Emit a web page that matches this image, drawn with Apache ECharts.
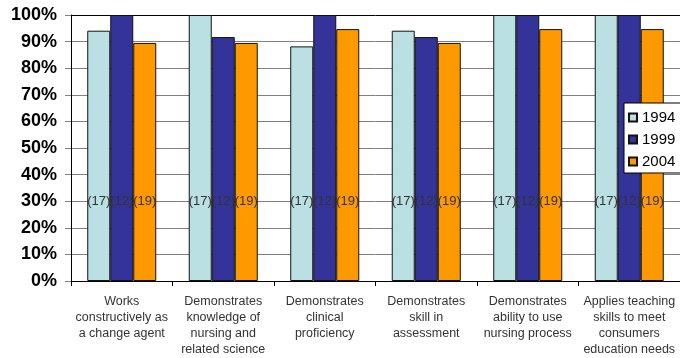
<!DOCTYPE html>
<html>
<head>
<meta charset="utf-8">
<script src="https://cdn.jsdelivr.net/npm/echarts@6/dist/echarts.min.js"></script>
<style>
  html, body { margin: 0; padding: 0; background: #fff; }
  #chart { width: 680px; height: 358px; }
</style>
</head>
<body>
<div id="chart"></div>
<script>
// Competency categories along the x axis
const categories = [
  'Works\nconstructively as\na change agent',
  'Demonstrates\nknowledge of\nnursing and\nrelated science',
  'Demonstrates\nclinical\nproficiency',
  'Demonstrates\nskill in\nassessment',
  'Demonstrates\nability to use\nnursing process',
  'Applies teaching\nskills to meet\nconsumers\neducation needs'
];

// Percent of respondents per cohort year
const years = ['1994', '1999', '2004'];
const values1994 = [94.1, 100, 88.2, 94.1, 100, 100];
const values1999 = [100, 91.7, 100, 91.7, 100, 100];
const values2004 = [89.5, 89.5, 94.7, 89.5, 94.7, 94.7];

// Sample size printed on each bar
const sampleSizes = [17, 12, 19];

const colors = ['#BBE0E3', '#333399', '#FF9900'];

// Y tick labels
const yTicks = ['0%', '10%', '20%', '30%', '40%', '50%', '60%', '70%', '80%', '90%', '100%'];

// Height on the value axis where the sample sizes sit
const countLevel = 30;

function makeSeries(name, values, n, color) {
  return {
    name: name,
    type: 'bar',
    barGap: '0%',
    barCategoryGap: '32%',
    itemStyle: { color: color, borderColor: '#111', borderWidth: 1 },
    emphasis: { disabled: true },
    data: values.map(v => ({
      value: v,
      label: {
        show: true,
        position: [0, ((1 - countLevel / v) * 100).toFixed(2) + '%'],
        align: 'left',
        verticalAlign: 'middle',
        formatter: '(' + n + ')',
        fontFamily: 'Liberation Sans, Arial, sans-serif',
        fontSize: 13,
        color: '#333'
      }
    }))
  };
}

const chart = echarts.init(document.getElementById('chart'), null, { renderer: 'canvas' });

const splitColors = yTicks.map((t, i) => i === yTicks.length - 1 ? '#000' : '#808080');

chart.setOption({
  animation: false,
  backgroundColor: '#fff',
  color: colors,
  grid: { left: 71, right: -3, top: 15, bottom: 77, containLabel: false },
  legend: {
    orient: 'vertical',
    left: 624,
    top: 103,
    data: years,
    backgroundColor: '#fff',
    borderColor: '#000',
    borderWidth: 1,
    borderRadius: 0,
    padding: [7, 10, 4, 4],
    itemGap: 7,
    itemWidth: 8,
    itemHeight: 8,
    icon: 'rect',
    textStyle: {
      fontFamily: 'Liberation Sans, Arial, sans-serif',
      fontSize: 15,
      color: '#000',
      padding: [0, 0, 0, 0]
    }
  },
  xAxis: {
    type: 'category',
    data: categories,
    axisLine: { lineStyle: { color: '#000', width: 1 } },
    axisTick: { show: true, length: 5, lineStyle: { color: '#000' } },
    axisLabel: {
      interval: 0,
      margin: 13,
      fontFamily: 'Liberation Sans, Arial, sans-serif',
      fontSize: 12.5,
      lineHeight: 16,
      color: '#333'
    },
    splitLine: { show: false }
  },
  yAxis: {
    type: 'value',
    min: 0,
    max: 100,
    interval: 10,
    axisLine: { show: true, lineStyle: { color: '#000', width: 1 } },
    axisTick: { show: true, length: 6, lineStyle: { color: '#808080' } },
    axisLabel: {
      margin: 14,
      formatter: (v) => yTicks[Math.round(v / 10)],
      fontFamily: 'Liberation Sans, Arial, sans-serif',
      fontWeight: 'bold',
      fontSize: 18,
      color: '#000'
    },
    splitLine: { show: true, lineStyle: { color: splitColors, width: 1 } }
  },
  series: [
    makeSeries(years[0], values1994, sampleSizes[0], colors[0]),
    makeSeries(years[1], values1999, sampleSizes[1], colors[1]),
    makeSeries(years[2], values2004, sampleSizes[2], colors[2])
  ]
});
</script>
</body>
</html>
